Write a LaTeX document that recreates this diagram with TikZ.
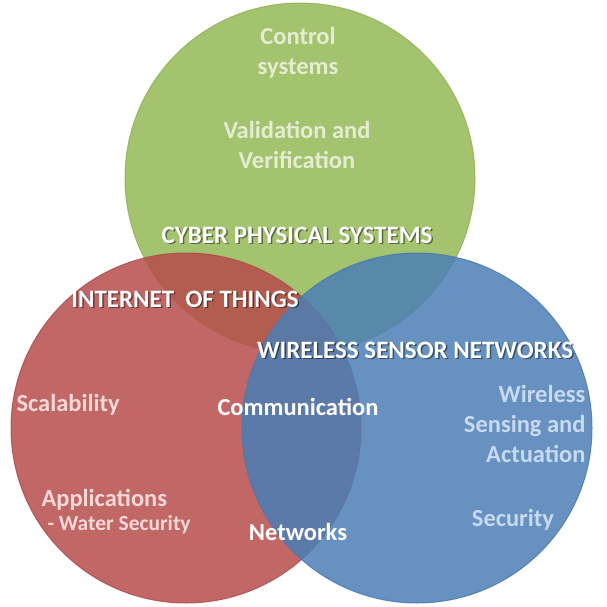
\documentclass[tikz,border=0pt]{standalone}
\usepackage{fontspec}
\setmainfont{Carlito}
\usetikzlibrary{positioning}
\definecolor{cpsgreen}{RGB}{148,184,86}
\definecolor{iotred}{RGB}{182,76,75}
\definecolor{wsnblue}{RGB}{75,126,181}
\definecolor{greentext}{RGB}{228,236,210}
\definecolor{redtext}{RGB}{244,216,216}
\definecolor{bluetext}{RGB}{200,218,240}
\tikzset{%
	set/.style = {circle, draw = #1!95!black, draw opacity = 0.8, line width = 1pt, fill = #1, fill opacity = 0.85, minimum size = 350pt, inner sep = 0pt},
	item/.style = {font = \fontsize{24.5}{30}\selectfont\bfseries, align = center, text = #1},
	subitem/.style = {font = \fontsize{21.5}{24}\selectfont\bfseries, text = #1},
	title/.style = {font = \fontsize{25}{28}\selectfont\bfseries, text = white},
	shade/.style = {title, text = black, text opacity = 0.45}
}
\newcommand{\settitle}[3]{%
	\node [shade] at ([shift = {(1.5,1.5)}]#2) {#3};
	\node [title] (#1) at (#2) {#3};
}
\begin{document}
\begin{tikzpicture}[x = 1pt, y = -1pt]
	\useasboundingbox (0,0) rectangle (607,607);
	% the three sets
	\node [set = cpsgreen] (cps) at (300,178) {};
	\node [set = iotred] (iot) at (186,428) {};
	\node [set = wsnblue] (wsn) at (417,428) {};
	% set titles
	\settitle{cpst}{297,235}{CYBER PHYSICAL SYSTEMS}
	\settitle{iott}{185,299}{INTERNET\ \ OF THINGS}
	\settitle{wsnt}{415,350}{WIRELESS SENSOR NETWORKS}
	% cyber physical systems
	\node [item = greentext] (control) at (298,53) {Control\\systems};
	\node [item = greentext] (valid) at (297,145) {Validation and\\Verification};
	% internet of things
	\node [item = redtext, anchor = west] (scale) at (13,405) {Scalability};
	\node [item = redtext, anchor = west] (apps) at (38,500) {Applications};
	\node [subitem = redtext, anchor = west] (water) at (44,525) {- Water Security};
	% shared
	\node [item = white] (comm) at (298,407) {Communication};
	\node [item = white] (net) at (298,532) {Networks};
	% wireless sensor networks
	\node [item = bluetext, align = right, anchor = east] (sense) at (589,424) {Wireless\\Sensing and\\Actuation};
	\node [item = bluetext] (secur) at (513,520) {Security};
\end{tikzpicture}
\end{document}
